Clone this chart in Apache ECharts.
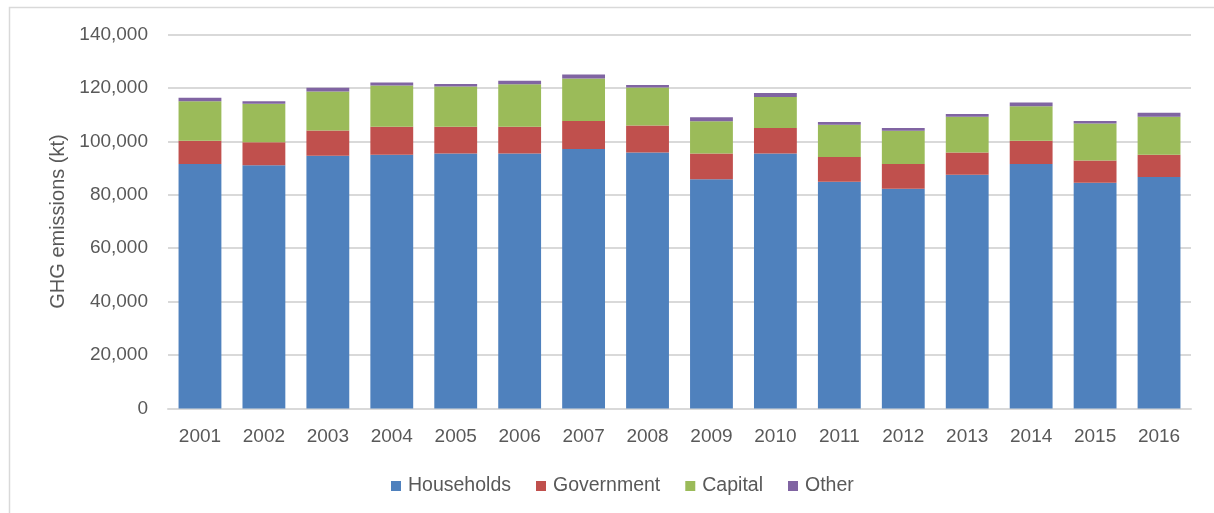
<!DOCTYPE html>
<html>
<head>
<meta charset="utf-8">
<script src="https://cdn.jsdelivr.net/npm/echarts@6/dist/echarts.min.js"></script>
<style>html,body{margin:0;padding:0;background:#fff}#c{width:1214px;height:513px}</style>
</head>
<body>
<div id="c"></div>
<script>
const years = ['2001','2002','2003','2004','2005','2006','2007','2008','2009','2010','2011','2012','2013','2014','2015','2016'];
const households = [91500, 91100, 94600, 95000, 95500, 95500, 97100, 95800, 85800, 95500, 84900, 82300, 87500, 91500, 84500, 86700];
const government = [8700, 8600, 9500, 10500, 10000, 10000, 10500, 10100, 9700, 9500, 9200, 9200, 8300, 8700, 8300, 8300];
const capital = [14800, 14400, 14600, 15400, 15000, 15900, 15900, 14300, 12000, 11600, 12100, 12500, 13400, 12900, 13900, 14200];
const other = [1300, 900, 1400, 1100, 1000, 1300, 1500, 900, 1500, 1500, 1000, 1000, 1000, 1400, 900, 1500];
const seriesNames = ['Households', 'Government', 'Capital', 'Other'];
const colors = ['#4F81BD', '#C0504D', '#9BBB59', '#8064A2'];
const yTicks = { min: 0, max: 140000, interval: 20000 };

const font = 'Liberation Sans';
const txt = '#595959';
const chart = echarts.init(document.getElementById('c'), null, { renderer: 'canvas' });
const dataSets = [households, government, capital, other];
chart.setOption({
  animation: false,
  color: colors,
  textStyle: { fontFamily: font },
  graphic: [{
    type: 'rect', shape: { x: 9.5, y: 7.5, width: 1220, height: 520 },
    style: { fill: 'none', stroke: '#D9D9D9', lineWidth: 1.5 }, silent: true, z: -10
  }],
  grid: { left: 168, right: 23, top: 34.5, bottom: 104.5 },
  legend: {
    left: 386, top: 471, itemWidth: 10, itemHeight: 10, itemGap: 25,
    icon: 'rect',
    textStyle: { color: txt, fontSize: 19.5, fontFamily: font, padding: [0, 0, 0, 2] },
    data: seriesNames
  },
  xAxis: {
    type: 'category', data: years,
    axisLine: { lineStyle: { color: '#D9D9D9', width: 2 } },
    axisTick: { show: false },
    axisLabel: { color: txt, fontSize: 19, margin: 19, fontFamily: font }
  },
  yAxis: {
    type: 'value', min: yTicks.min, max: yTicks.max, interval: yTicks.interval,
    name: 'GHG emissions (kt)', nameLocation: 'middle', nameGap: 96, nameRotate: 90,
    nameTextStyle: { color: txt, fontSize: 20, fontFamily: font },
    axisLine: { show: false }, axisTick: { show: false },
    axisLabel: { color: txt, fontSize: 19, margin: 20, fontFamily: font,
      formatter: v => v.toLocaleString('en-US') },
    splitLine: { lineStyle: { color: '#D9D9D9', width: 2 } }
  },
  series: seriesNames.map((n, i) => ({
    name: n, type: 'bar', stack: 'total', data: dataSets[i],
    barCategoryGap: '33%',
    itemStyle: { color: colors[i] }
  }))
});
</script>
</body>
</html>
